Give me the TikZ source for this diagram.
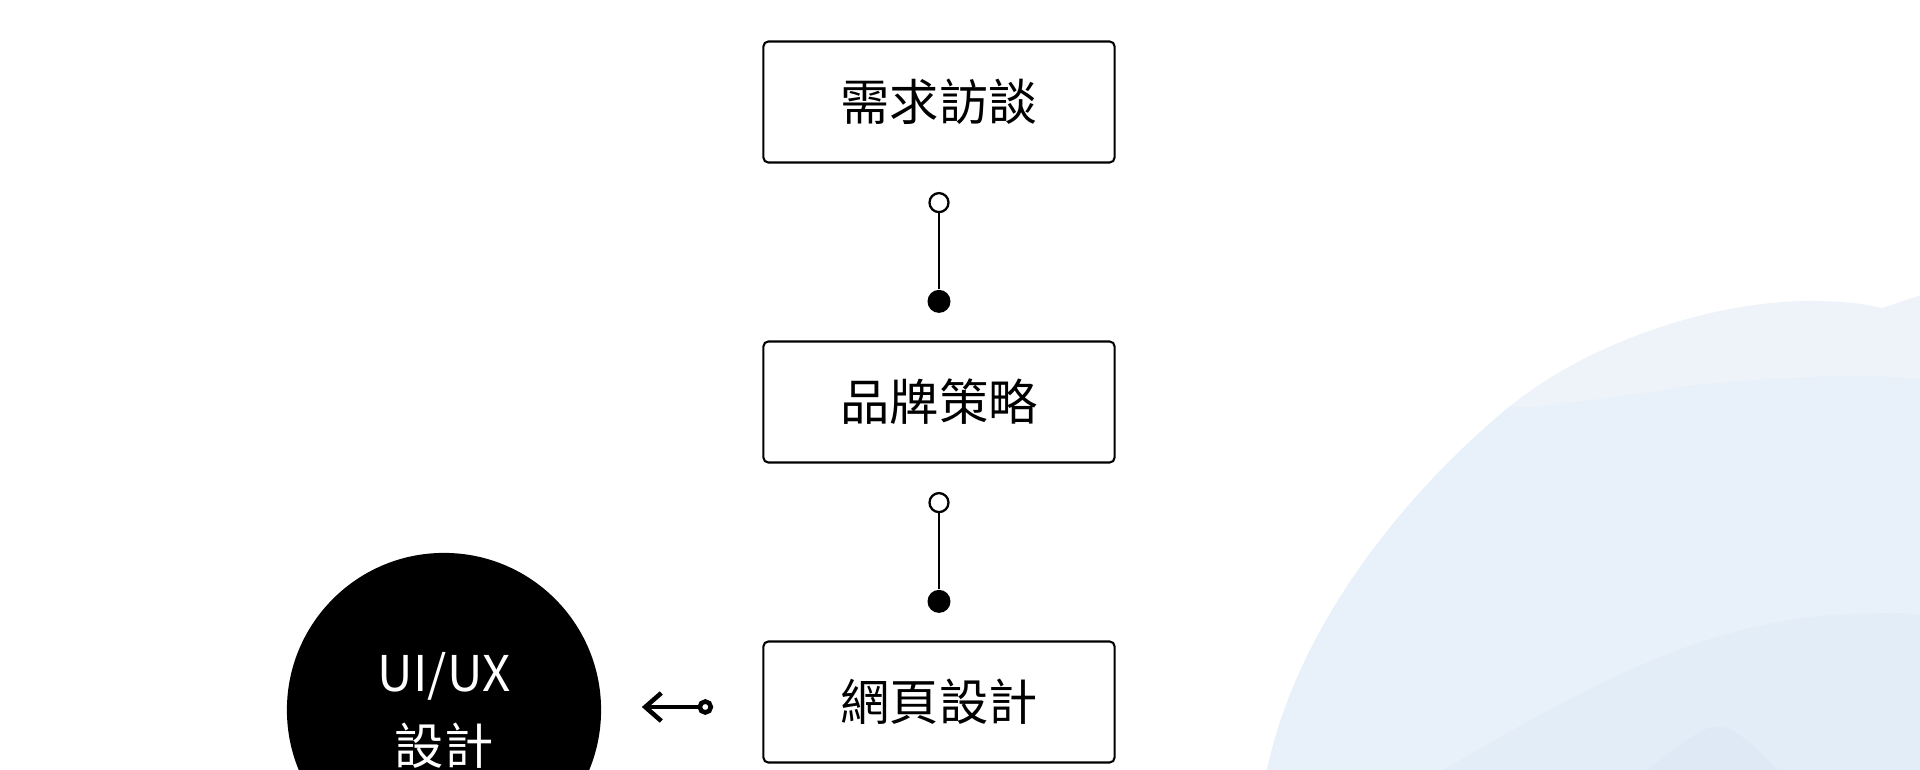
\documentclass[tikz,border=0pt]{standalone}
\usepackage{fontspec}
\setmainfont{Noto Sans CJK TC}
\usetikzlibrary{arrows.meta}
\definecolor{bandtop}{HTML}{EEF3FA}
\definecolor{bandmid}{HTML}{E8F0F9}
\definecolor{bandlow}{HTML}{E3EDF8}
\definecolor{bandbump}{HTML}{DFE9F6}
\newcommand{\blobpath}{(1250,830) -- (1267,770) .. controls (1300,615) and (1418,482) .. (1509,407)
  .. controls (1592,339) and (1720,300) .. (1812,301) .. controls (1845,301) and (1865,304) .. (1882,308)
  -- (1930,292) -- (1930,830) -- cycle}
\tikzset{
  stage/.style={draw, line width=0.6pt, rounded corners=0.05cm, minimum width=3.51cm,
    minimum height=1.21cm, font=\fontsize{14}{17}\selectfont},
  opendot/.style={circle, draw, line width=0.65pt, fill=white, inner sep=0pt, minimum size=0.19cm},
  fulldot/.style={circle, fill=black, inner sep=0pt, minimum size=0.23cm},
  hub/.style={circle, fill=black, text=white, inner sep=0pt, minimum size=3.14cm, align=center,
    font=\fontsize{14}{20.8}\selectfont},
  ring/.style={circle, draw, line width=1.3pt, fill=white, inner sep=0pt, minimum size=0.11cm},
  link/.style={line width=0.7pt},
  pointer/.style={line width=1.3pt, -{Straight Barb[length=1.6mm,width=2.8mm]}}
}
\begin{document}
\begin{tikzpicture}[x=0.01cm,y=-0.01cm]
\useasboundingbox (0,0) rectangle (1920,770);
\clip (0,0) rectangle (1920,770);

% background shapes
\begin{scope}
\fill[bandtop] \blobpath;
\clip \blobpath;
\fill[bandmid] plot[smooth, tension=0.6] coordinates {(1470,410) (1509,407) (1544,406) (1630,395) (1717,383) (1847,376) (1930,380)}
  -- (1930,830) -- (1200,830) -- (1200,410) -- cycle;
\fill[bandlow] plot[smooth, tension=0.6] coordinates {(1420,790) (1444,770) (1544,713) (1630,670) (1717,637) (1804,618) (1890,613) (1930,616)}
  -- (1930,830) -- cycle;
\fill[bandbump] plot[smooth, tension=0.7] coordinates {(1630,790) (1648,770) (1690,738) (1717,727) (1742,737) (1778,770) (1795,790)}
  -- cycle;
\end{scope}

% stages
\node[stage] (need) at (939,102) {需求訪談};
\node[stage] (brand) at (939,402) {品牌策略};
\node[stage] (web) at (939,702) {網頁設計};
\node[hub] (uiux) at (444,710) {UI/UX\\設計};

% links between stages
\node[opendot] (o1) at ([yshift=-0.39cm]need.south) {};
\node[fulldot] (f1) at ([yshift=0.39cm]brand.north) {};
\draw[link] (o1) -- (f1);
\node[opendot] (o2) at ([yshift=-0.39cm]brand.south) {};
\node[fulldot] (f2) at ([yshift=0.39cm]web.north) {};
\draw[link] (o2) -- (f2);

% pointer to the circle
\node[ring] (r1) at ([xshift=-0.57cm,yshift=-0.05cm]web.west) {};
\coordinate (tip) at ([xshift=0.4cm]uiux.east |- r1);
\draw[pointer] (r1) -- (tip);
\end{tikzpicture}
\end{document}
